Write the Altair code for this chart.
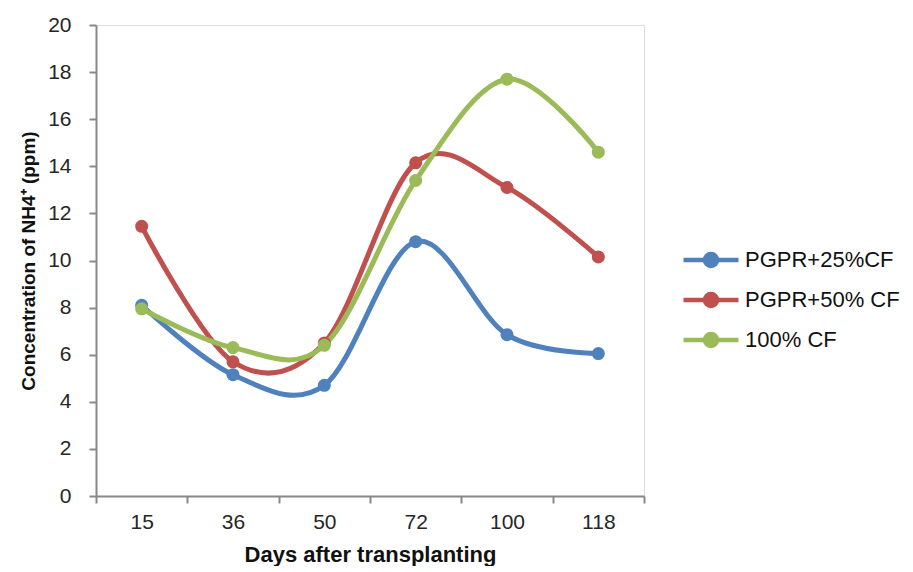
import altair as alt
import pandas as pd

days = ["15", "36", "50", "72", "100", "118"]
series_names = ["PGPR+25%CF", "PGPR+50% CF", "100% CF"]
pgpr25 = [8.1, 5.15, 4.7, 10.8, 6.85, 6.05]
pgpr50 = [11.45, 5.7, 6.5, 14.15, 13.1, 10.15]
cf100 = [7.95, 6.3, 6.4, 13.4, 17.7, 14.6]
colors = ["#4F81BD", "#C0504D", "#9BBB59"]

rows = []
for name, vals in zip(series_names, [pgpr25, pgpr50, cf100]):
    for d, v in zip(days, vals):
        rows.append({"day": d, "value": v, "series": name})
df = pd.DataFrame(rows)

FONT = "Liberation Sans"
AXC = "#888888"

x = alt.X("day:N", sort=days, bandPosition=0.5,
          scale=alt.Scale(type="band", paddingInner=0, paddingOuter=0),
          axis=alt.Axis(title="Days after transplanting", labelAngle=0,
                        tickBand="extent", labelFontSize=21, titleFontSize=22,
                        titleFontWeight="bold", labelPadding=8, titlePadding=12,
                        domainColor=AXC, tickColor=AXC, tickSize=7,
                        domainWidth=2, tickWidth=2, labelColor="#262626",
                        titleColor="#111111", labelFont=FONT, titleFont=FONT))
y = alt.Y("value:Q", scale=alt.Scale(domain=[0, 20]),
          axis=alt.Axis(title="Concentration of NH4\u207a (ppm)", values=list(range(0, 21, 2)),
                        grid=False, labelFontSize=21, titleFontSize=19,
                        titleFontWeight="bold", labelPadding=18, titlePadding=9,
                        domainColor=AXC, tickColor=AXC, tickSize=7,
                        domainWidth=2, tickWidth=2, labelColor="#262626",
                        titleColor="#111111", labelFont=FONT, titleFont=FONT))

color = alt.Color("series:N", sort=series_names,
                  scale=alt.Scale(domain=series_names, range=colors),
                  legend=alt.Legend(title=None, orient="none", legendX=585, legendY=220,
                                    labelFontSize=22, labelFont=FONT, labelColor="#111111",
                                    labelLimit=400,
                                    symbolType="M-1,0L1,0M-0.22,0A0.22,0.22 0 1,1 0.22,0A0.22,0.22 0 1,1 -0.22,0Z",
                                    symbolSize=3025, symbolStrokeWidth=4.5, clipHeight=30,
                                    rowPadding=10, labelOffset=4))

base = alt.Chart(df)
lines = base.mark_line(interpolate="cardinal", strokeWidth=5).encode(x=x, y=y, color=color)
points = base.mark_point(filled=True, size=170, opacity=1).encode(x=x, y=y, color=color)

chart = alt.layer(lines, points).properties(
    width=548, height=471,
    autosize=alt.AutoSizeParams(type="none"),
    padding={"left": 88, "top": 17, "right": 260, "bottom": 70},
).configure_view(stroke=None).configure(font=FONT)

chart.save("out.html", embed_options={"renderer": "svg", "actions": False})
